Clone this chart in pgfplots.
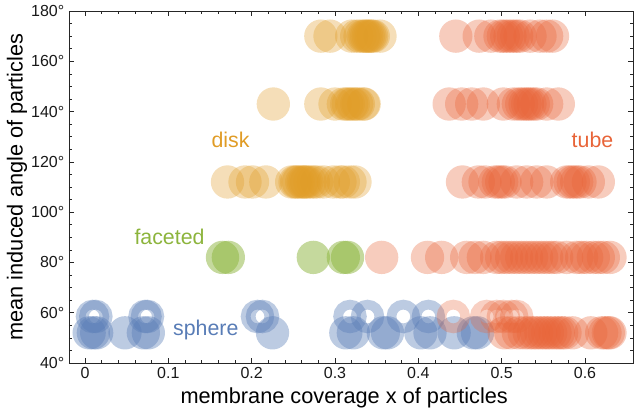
\documentclass[border=0pt]{standalone}
\usepackage{pgfplots}
\pgfplotsset{compat=1.18}
\usepackage{fontspec}
\setmainfont{Liberation Sans}
\definecolor{cdisk}{RGB}{224,156,38}
\definecolor{ctube}{RGB}{232,100,56}
\definecolor{cfacet}{RGB}{140,180,60}
\definecolor{csphere}{RGB}{88,124,182}
\pgfplotsset{
  disc/.style 2 args={only marks, mark=*, mark size=12.5pt, color=#1, mark options={draw opacity=0, fill=#1, fill opacity=#2, line width=0pt}},
  ring/.style 2 args={only marks, mark=o, mark size=8.9pt, color=#1, mark options={line width=7.3pt, draw=#1, draw opacity=#2, fill opacity=0}},
}
\begin{document}
\begin{tikzpicture}
\begin{axis}[
  scale only axis, width=423pt, height=264pt,
  xmin=-0.0192, xmax=0.6576, ymin=40, ymax=180,
  xtick={0,0.1,0.2,0.3,0.4,0.5,0.6},
  minor x tick num=4,
  ytick={40,60,80,100,120,140,160,180},
  minor y tick num=3,
  tick align=inside,
  major tick length=4pt, minor tick length=2.5pt,
  axis line style={black!85, line width=0.6pt},
  tick style={black!85, line width=0.5pt},
  /pgf/number format/assume math mode=true,
  yticklabel={\pgfmathprintnumber{\tick}°},
  ticklabel style={font=\fontsize{12}{14}\selectfont, black!90},
  xlabel={membrane coverage x of particles},
  ylabel={mean induced angle of particles},
  every axis x label/.style={at={(axis description cs:0.488,-0.0994)}, anchor=center, font=\fontsize{16.3}{19}\selectfont},
  every axis y label/.style={at={(axis description cs:-0.0922,0.5)}, rotate=90, anchor=center, font=\fontsize{16.3}{19}\selectfont},
]
% sphere rings
\addplot[ring={csphere}{0.4}]
  table[row sep=\\] {x y\\ 0.009 58.5\\ 0.013 58.5\\ 0.072 58.5\\ 0.075 58.5\\ 0.207 58.5\\ 0.213 58.5\\ 0.318 58.5\\ 0.339 58.5\\ 0.382 58.5\\ 0.412 58.5\\};
% sphere filled
\addplot[disc={csphere}{0.4}]
  table[row sep=\\] {x y\\ 0.005 52\\ 0.010 52\\ 0.014 52\\ 0.048 52\\ 0.070 52\\ 0.076 52\\ 0.225 52\\ 0.313 52\\ 0.322 52\\ 0.358 52\\ 0.363 52\\ 0.403 52\\ 0.414 52\\ 0.443 52\\ 0.466 52\\ 0.471 52\\};
% faceted
\addplot[disc={cfacet}{0.5}]
  table[row sep=\\] {x y\\ 0.165 82\\ 0.172 82\\ 0.274 82\\ 0.310 82\\ 0.315 82\\};
% disk
\addplot[disc={cdisk}{0.33}]
  table[row sep=\\] {x y\\
  0.283 170\\ 0.294 170\\ 0.320 170\\ 0.326 170\\ 0.330 170\\ 0.334 170\\ 0.336 170\\ 0.338 170\\ 0.340 170\\ 0.342 170\\ 0.344 170\\ 0.346 170\\ 0.354 170\\
  0.226 143\\ 0.283 143\\ 0.300 143\\ 0.310 143\\ 0.314 143\\ 0.316 143\\ 0.320 143\\ 0.322 143\\ 0.326 143\\ 0.328 143\\ 0.334 143\\ 0.335 143\\
  0.171 112\\ 0.192 112\\ 0.201 112\\ 0.217 112\\ 0.248 112\\ 0.252 112\\ 0.254 112\\ 0.256 112\\ 0.260 112\\ 0.262 112\\ 0.264 112\\ 0.266 112\\ 0.270 112\\ 0.274 112\\ 0.278 112\\ 0.286 112\\ 0.298 112\\ 0.306 112\\ 0.310 112\\ 0.318 112\\ 0.324 112\\};
% tube rings
\addplot[ring={ctube}{0.3}]
  table[row sep=\\] {x y\\ 0.442 58.5\\ 0.482 58.5\\ 0.494 58.5\\ 0.502 58.5\\ 0.512 58.5\\ 0.518 58.5\\};
% tube filled
\addplot[disc={ctube}{0.33}]
  table[row sep=\\] {x y\\
  0.445 170\\ 0.473 170\\ 0.487 170\\ 0.498 170\\ 0.502 170\\ 0.506 170\\ 0.510 170\\ 0.514 170\\ 0.518 170\\ 0.522 170\\ 0.534 170\\ 0.546 170\\ 0.554 170\\ 0.561 170\\
  0.437 143\\ 0.452 143\\ 0.464 143\\ 0.478 143\\ 0.502 143\\ 0.514 143\\ 0.520 143\\ 0.524 143\\ 0.528 143\\ 0.531 143\\ 0.534 143\\ 0.538 143\\ 0.542 143\\ 0.554 143\\ 0.568 143\\
  0.453 112\\ 0.472 112\\ 0.480 112\\ 0.492 112\\ 0.496 112\\ 0.500 112\\ 0.504 112\\ 0.518 112\\ 0.530 112\\ 0.542 112\\ 0.554 112\\ 0.578 112\\ 0.582 112\\ 0.586 112\\ 0.590 112\\ 0.594 112\\ 0.604 112\\ 0.616 112\\
  0.356 82\\ 0.411 82\\ 0.428 82\\ 0.458 82\\ 0.468 82\\ 0.478 82\\ 0.494 82\\ 0.500 82\\ 0.506 82\\ 0.512 82\\ 0.518 82\\ 0.524 82\\ 0.530 82\\ 0.536 82\\ 0.542 82\\ 0.548 82\\ 0.554 82\\ 0.560 82\\ 0.566 82\\ 0.578 82\\ 0.590 82\\ 0.596 82\\ 0.602 82\\ 0.610 82\\ 0.616 82\\ 0.622 82\\ 0.630 82\\
  0.503 52\\ 0.511 52\\ 0.520 52\\ 0.527 52\\ 0.533 52\\ 0.538 52\\ 0.542 52\\ 0.547 52\\ 0.551 52\\ 0.555 52\\ 0.559 52\\ 0.564 52\\ 0.568 52\\ 0.572 52\\ 0.576 52\\ 0.585 52\\ 0.607 52\\ 0.620 52\\ 0.624 52\\ 0.628 52\\ 0.630 52\\};
\node[text=cdisk, font=\fontsize{16}{19}\selectfont] at (axis cs:0.1746,128.7) {disk};
\node[text=ctube, font=\fontsize{16}{19}\selectfont] at (axis cs:0.609,128.7) {tube};
\node[text=cfacet, font=\fontsize{16}{19}\selectfont] at (axis cs:0.1014,90.2) {faceted};
\node[text=csphere, font=\fontsize{16}{19}\selectfont] at (axis cs:0.145,53.1) {sphere};
\end{axis}
\pgfresetboundingbox
\path[use as bounding box] ([xshift=-51.75pt,yshift=-40.5pt]current axis.south west) rectangle ([xshift=5.25pt,yshift=8.25pt]current axis.north east);
\end{tikzpicture}
\end{document}
